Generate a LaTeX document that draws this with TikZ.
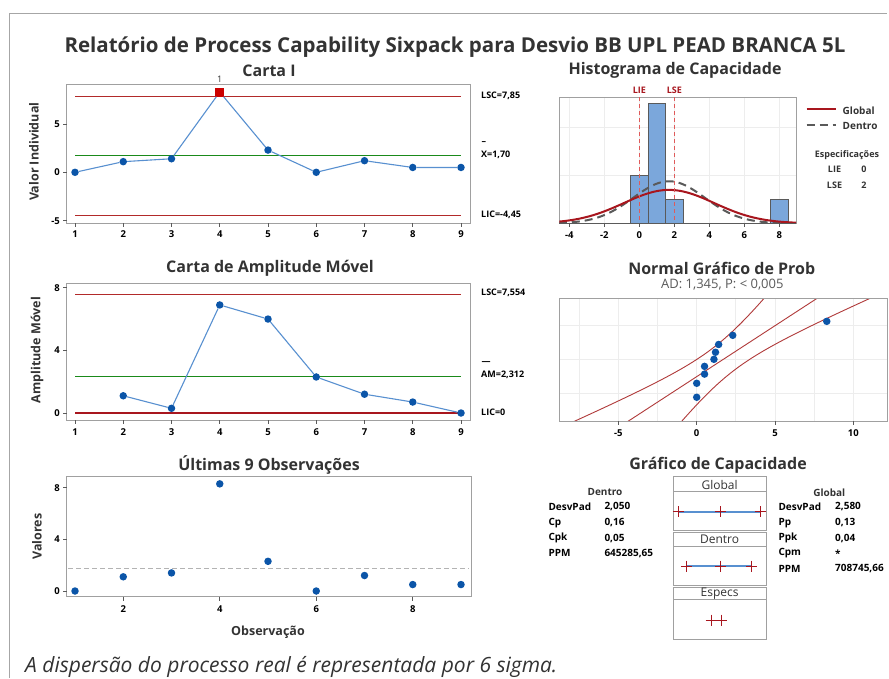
\documentclass[tikz,border=0pt]{standalone}
\usepackage{fontspec}
\setmainfont{Open Sans}
\usetikzlibrary{calc}

\definecolor{framegray}{HTML}{A6A6A6}
\definecolor{txt}{HTML}{333333}
\definecolor{axgray}{HTML}{A0A0A0}
\definecolor{limred}{HTML}{B22A2A}
\definecolor{cgreen}{HTML}{1A8A1A}
\definecolor{ptblue}{HTML}{0B55A8}
\definecolor{lnblue}{HTML}{5890D0}
\definecolor{barblue}{HTML}{7BA7DB}
\definecolor{specred}{HTML}{E05A5A}
\definecolor{darkred}{HTML}{A8161E}
\definecolor{bandred}{HTML}{B03A3A}
\definecolor{gridc}{HTML}{EDEDED}
\definecolor{dgray}{HTML}{5A5A5A}

\newcommand{\fsz}[1]{\fontsize{#1}{#1}\selectfont}

\tikzset{
  plotbox/.style={draw=axgray, line width=1pt},
  tickmark/.style={draw=dgray, line width=0.8pt},
  ticklab/.style={font=\fsz{9.5}\bfseries, text=black, inner sep=0pt},
  limlab/.style={font=\fsz{9}\bfseries, text=black, inner sep=0pt, anchor=west},
  paneltitle/.style={font=\fsz{16}\bfseries, text=txt, inner sep=0pt},
  ylab/.style={font=\fsz{12.5}\bfseries, text=txt, inner sep=0pt, rotate=90},
  ptdot/.style={circle, fill=ptblue, draw=none, minimum size=7.5pt, inner sep=0pt},
  oosq/.style={rectangle, fill=red!80!black, draw=none, minimum size=9pt, inner sep=0pt},
  dataline/.style={draw=lnblue, line width=1.1pt},
  redlim/.style={draw=limred, line width=1.1pt},
  greenc/.style={draw=cgreen, line width=1.1pt},
  statlab/.style={font=\fsz{10}\bfseries, text=black, inner sep=0pt, anchor=west},
  capbox/.style={draw=axgray, line width=1pt},
  caphead/.style={font=\fsz{12}, text=txt, inner sep=0pt},
  capline/.style={draw=lnblue, line width=2pt},
  capcross/.style={draw=darkred, line width=0.9pt},
}

\begin{document}
\begin{tikzpicture}[x=1pt,y=-1pt]
\useasboundingbox (0,0) rectangle (889,678);
\fill[white] (0,0) rectangle (889,678);

% outer frame
\draw[framegray, line width=1.3pt] (9.3,678) -- (9.3,13.3) -- (887,13.3);

% main title
\node[font=\fsz{20.5}\bfseries, text=txt, inner sep=0pt] (maintitle) at (455,47)
  {Relatório de Process Capability Sixpack para Desvio BB UPL PEAD BRANCA 5L};

%================ I chart =================
\node[paneltitle] (titI) at (269,70.7) {Carta I};
\draw[plotbox] (66.5,84) rectangle (470,223.3);
\foreach \v/\y in {5/124,0/172.3,-5/220.7}{
  \draw[tickmark] (66.5,\y) -- (62.5,\y);
  \node[ticklab, anchor=east] (iy\v) at (60,\y) {\v};
}
\foreach \i in {1,...,9}{
  \draw[tickmark] ({75+(\i-1)*48.25},223.3) -- ({75+(\i-1)*48.25},227.3);
  \node[ticklab] (ix\i) at ({75+(\i-1)*48.25},234.5) {\i};
}
\node[ylab] (ylabI) at (34,151.7) {Valor Individual};
\draw[redlim] (75,96.4) -- (461,96.4);
\draw[greenc] (75,155.9) -- (461,155.9);
\draw[redlim] (75,215.3) -- (461,215.3);
\node[limlab] (lscI) at (481,96) {LSC=7,85};
\node[limlab] (barI) at (481.5,142.7) {–};
\node[limlab] (xbarI) at (481,155) {X=1,70};
\node[limlab] (licI) at (481,215) {LIC=-4,45};
\foreach \i/\v in {1/0,2/1.1,3/1.4,5/2.3,6/0,7/1.2,8/0.5,9/0.5}{
  \node[ptdot] (ia\i) at ({75+(\i-1)*48.25},{172.3-9.67*\v}) {};
}
\node[oosq] (ia4) at (219.75,{172.3-9.67*8.3}) {};
\node[font=\fsz{9}, text=txt, inner sep=0pt] (flag4) at (219.75,79.3) {1};
\draw[dataline] (ia1) -- (ia2) -- (ia3) -- (ia4) -- (ia5) -- (ia6) -- (ia7) -- (ia8) -- (ia9);

%================ Moving range chart =================
\node[paneltitle] (titMR) at (270,268.3) {Carta de Amplitude Móvel};
\draw[plotbox] (66.5,283.3) rectangle (470,420);
\foreach \v/\y in {8/287.7,4/350.3,0/413}{
  \draw[tickmark] (66.5,\y) -- (62.5,\y);
  \node[ticklab, anchor=east] (my\v) at (60,\y) {\v};
}
\foreach \i in {1,...,9}{
  \draw[tickmark] ({75+(\i-1)*48.25},420) -- ({75+(\i-1)*48.25},424);
  \node[ticklab] (mx\i) at ({75+(\i-1)*48.25},431.7) {\i};
}
\node[ylab] (ylabMR) at (37,350) {Amplitude Móvel};
\draw[redlim] (75,{413-15.66*7.554}) -- (461,{413-15.66*7.554});
\draw[greenc] (75,{413-15.66*2.312}) -- (461,{413-15.66*2.312});
\draw[draw=darkred, line width=1.1pt] (75,413) -- (461,413);
\node[limlab] (lscMR) at (481,293.3) {LSC=7,554};
\node[limlab] (barMR) at (481.5,363.3) {—};
\node[limlab] (amMR) at (481,375.3) {AM=2,312};
\node[limlab] (licMR) at (481,412.3) {LIC=0};
\foreach \i/\v in {2/1.1,3/0.3,4/6.9,5/6.0,6/2.3,7/1.2,8/0.7,9/0}{
  \node[ptdot] (mr\i) at ({75+(\i-1)*48.25},{413-15.66*\v}) {};
}
\draw[dataline] (mr2) -- (mr3) -- (mr4) -- (mr5) -- (mr6) -- (mr7) -- (mr8) -- (mr9);

%================ Last observations =================
\node[paneltitle] (titLast) at (269,465) {Últimas 9 Observações};
\draw[plotbox] (66.5,476.7) rectangle (471,596.7);
\foreach \v/\y in {8/487.7,4/539.3,0/591}{
  \draw[tickmark] (66.5,\y) -- (62.5,\y);
  \node[ticklab, anchor=east] (ly\v) at (60,\y) {\v};
}
\foreach \i in {2,4,6,8}{
  \draw[tickmark] ({75+(\i-1)*48.25},596.7) -- ({75+(\i-1)*48.25},600.7);
  \node[ticklab] (lx\i) at ({75+(\i-1)*48.25},609.3) {\i};
}
\node[ylab] (ylabLast) at (37,536.7) {Valores};
\node[font=\fsz{12.5}\bfseries, text=txt, inner sep=0pt] (xlabLast) at (268,632.7) {Observação};
\draw[draw=axgray!80, line width=1.1pt, dash pattern=on 5pt off 3pt] (68,568.8) -- (469,568.8);
\foreach \i/\v in {1/0,2/1.1,3/1.4,4/8.3,5/2.3,6/0,7/1.2,8/0.5,9/0.5}{
  \node[ptdot] (ob\i) at ({75+(\i-1)*48.25},{591-12.91*\v}) {};
}

%================ Capability histogram =================
\node[paneltitle] (titHist) at (675,70) {Histograma de Capacidade};
\foreach \y in {127.3,175.3}{ \draw[gridc, line width=0.8pt] (559.3,\y) -- (796,\y); }
\foreach \v in {-4,-2,...,8}{ \draw[gridc, line width=0.8pt] ({639.3+17.5*\v},97.3) -- ({639.3+17.5*\v},223.3); }
\draw[plotbox] (559.3,97.3) rectangle (796,223.3);
\foreach \a/\b/\t in {630.55/648.05/175.3, 648.05/665.55/103.3, 665.55/683.05/199.3, 770.55/788.05/199.3}{
  \draw[fill=barblue, draw=dgray, line width=0.9pt] (\a,223.3) rectangle (\b,\t);
}
\begin{scope}
  \clip (559.3,97.3) rectangle (796,223.3);
  \draw[dgray, line width=2pt, dash pattern=on 8pt off 5pt, domain=-4.6:9, samples=120]
    plot ({639.3+17.5*\x},{223.3-42.04*exp(0-((\x-1.7)*(\x-1.7))/8.405)});
  \draw[darkred, line width=2pt, domain=-4.6:9, samples=120]
    plot ({639.3+17.5*\x},{223.3-33.4*exp(0-((\x-1.7)*(\x-1.7))/13.3128)});
\end{scope}
\draw[dgray, line width=1.2pt] (559.3,223.3) -- (796,223.3);
\draw[specred, line width=1.2pt, dash pattern=on 4pt off 3pt] (639.3,97.3) -- (639.3,223.3);
\draw[specred, line width=1.2pt, dash pattern=on 4pt off 3pt] (674.3,97.3) -- (674.3,223.3);
\node[font=\fsz{9}\bfseries, text=darkred, inner sep=0pt] (lieLab) at (639.3,90) {LIE};
\node[font=\fsz{9}\bfseries, text=darkred, inner sep=0pt] (lseLab) at (674.3,90) {LSE};
\foreach \v in {-4,-2,...,8}{
  \draw[tickmark] ({639.3+17.5*\v},223.3) -- ({639.3+17.5*\v},227.3);
  \node[ticklab] (hx\v) at ({639.3+17.5*\v},235) {\v};
}
% legend
\draw[darkred, line width=2pt] (806.7,109.3) -- (836,109.3);
\node[font=\fsz{10}\bfseries, text=txt, inner sep=0pt, anchor=west] (legG) at (842.5,110.5) {Global};
\draw[dgray, line width=2pt, dash pattern=on 8pt off 5pt] (806.7,125) -- (836,125);
\node[font=\fsz{10}\bfseries, text=txt, inner sep=0pt, anchor=west] (legD) at (842.5,125.5) {Dentro};
\node[font=\fsz{9}\bfseries, text=txt, inner sep=0pt] (legS) at (847,155) {Especificações};
\node[font=\fsz{9}\bfseries, text=txt, inner sep=0pt] (legLIE) at (834.5,169) {LIE};
\node[font=\fsz{9}\bfseries, text=txt, inner sep=0pt] (legLIEv) at (864,169) {0};
\node[font=\fsz{9}\bfseries, text=txt, inner sep=0pt] (legLSE) at (834.5,185) {LSE};
\node[font=\fsz{9}\bfseries, text=txt, inner sep=0pt] (legLSEv) at (864,185) {2};

%================ Normal probability plot =================
\node[paneltitle] (titProb) at (721.7,268) {Normal Gráfico de Prob};
\node[font=\fsz{13}, text=dgray, inner sep=0pt] (adLab) at (722.3,285) {AD: 1,345, P: < 0,005};
\foreach \y in {325.6,359.3,393}{ \draw[gridc, line width=0.8pt] (559.3,\y) -- (887.3,\y); }
\foreach \v in {-7.5,-5,-2.5,0,2.5,5,7.5,10}{ \draw[gridc, line width=0.8pt] ({696.7+15.67*\v},298.3) -- ({696.7+15.67*\v},421); }
\begin{scope}
  \clip (559.3,298.3) rectangle (887.3,421);
  \draw[bandred, line width=0.9pt, domain=-2.8:2.8, samples=80]
    plot ({696.7+15.67*(1.7+2.58*\x-5.057*sqrt(1/9+\x*\x/16))},{359.3-26.3*\x});
  \draw[bandred, line width=0.9pt, domain=-2.8:2.8, samples=80]
    plot ({696.7+15.67*(1.7+2.58*\x+5.057*sqrt(1/9+\x*\x/16))},{359.3-26.3*\x});
  \coordinate (fitlo) at ({696.7+15.67*(1.7-2.58*2.8)},{359.3+26.3*2.8});
  \coordinate (fithi) at ({696.7+15.67*(1.7+2.58*2.8)},{359.3-26.3*2.8});
  \draw[bandred, line width=0.9pt] (fitlo) -- (fithi);
\end{scope}
\draw[plotbox] (559.3,298.3) rectangle (887.3,421);
\foreach \v in {-5,0,5,10}{
  \draw[tickmark] ({696.7+15.67*\v},421) -- ({696.7+15.67*\v},425);
  \node[ticklab] (px\v) at ({696.7+15.67*\v},432.7) {\v};
}
\foreach \i/\v/\z in {1/0/-1.443,2/0/-0.912,3/0.5/-0.563,4/0.5/-0.268,5/1.1/0,6/1.2/0.268,7/1.4/0.563,8/2.3/0.912,9/8.3/1.443}{
  \node[ptdot] (pp\i) at ({696.7+15.67*\v},{359.3-26.3*\z}) {};
}

%================ Capability plot =================
\node[paneltitle] (titCap) at (718,465) {Gráfico de Capacidade};
% Global
\draw[capbox] (673.3,476.7) rectangle (766,530);
\draw[capbox] (673.3,491.7) -- (766,491.7);
\node[caphead] (hGlobal) at (719.6,485) {Global};
% Dentro
\draw[capbox] (673.3,532.3) rectangle (766,585);
\draw[capbox] (673.3,546) -- (766,546);
\node[caphead] (hDentro) at (719.6,539.5) {Dentro};
% Especs
\draw[capbox] (673.3,587) rectangle (766,639);
\draw[capbox] (673.3,599.5) -- (766,599.5);
\node[caphead] (hEspecs) at (719.6,593.5) {Especs};
% interval markers
\coordinate (gL) at (678.3,511.7); \coordinate (gM) at (720.3,511.7); \coordinate (gR) at (760,511.7);
\coordinate (dL) at (686.7,566); \coordinate (dM) at (720.3,566); \coordinate (dR) at (751.7,566);
\coordinate (sL) at (711,620); \coordinate (sR) at (721.9,620);
\draw[capline] (gL) -- (gR);
\draw[capline] (dL) -- (dR);
\foreach \c in {gL,gM,gR,dL,dM,dR,sL,sR}{
  \draw[capcross] ($(\c)+(-5.5,0)$) -- ($(\c)+(5.5,0)$);
  \draw[capcross] ($(\c)+(0,-5.5)$) -- ($(\c)+(0,5.5)$);
}
% within statistics
\node[font=\fsz{10}\bfseries, text=txt, inner sep=0pt] (sDentro) at (605,492.3) {Dentro};
\node[statlab] (sd1) at (548.3,506.7) {DesvPad};
\node[statlab] (sd2) at (548.3,522.7) {Cp};
\node[statlab] (sd3) at (548.3,538.3) {Cpk};
\node[statlab] (sd4) at (548.3,553.3) {PPM};
\node[statlab] (vd1) at (604.3,506.7) {2,050};
\node[statlab] (vd2) at (604.3,522.7) {0,16};
\node[statlab] (vd3) at (604.3,538.3) {0,05};
\node[statlab] (vd4) at (604.3,553.3) {645285,65};
% overall statistics
\node[font=\fsz{10}\bfseries, text=txt, inner sep=0pt] (sGlobal) at (829.3,492.3) {Global};
\node[statlab] (sg1) at (778.3,506.7) {DesvPad};
\node[statlab] (sg2) at (778.3,522.7) {Pp};
\node[statlab] (sg3) at (778.3,538.3) {Ppk};
\node[statlab] (sg4) at (778.3,553.3) {Cpm};
\node[statlab] (sg5) at (778.3,569) {PPM};
\node[statlab] (vg1) at (835,506.7) {2,580};
\node[statlab] (vg2) at (835,522.7) {0,13};
\node[statlab] (vg3) at (835,538.3) {0,04};
\node[statlab] (vg4) at (835,553.3) {*};
\node[statlab] (vg5) at (835,569) {708745,66};

% footnote
\node[font=\fsz{21}\itshape, text=txt, inner sep=0pt, anchor=west] (note) at (25,666.7)
  {A dispersão do processo real é representada por 6 sigma.};
\end{tikzpicture}
\end{document}
